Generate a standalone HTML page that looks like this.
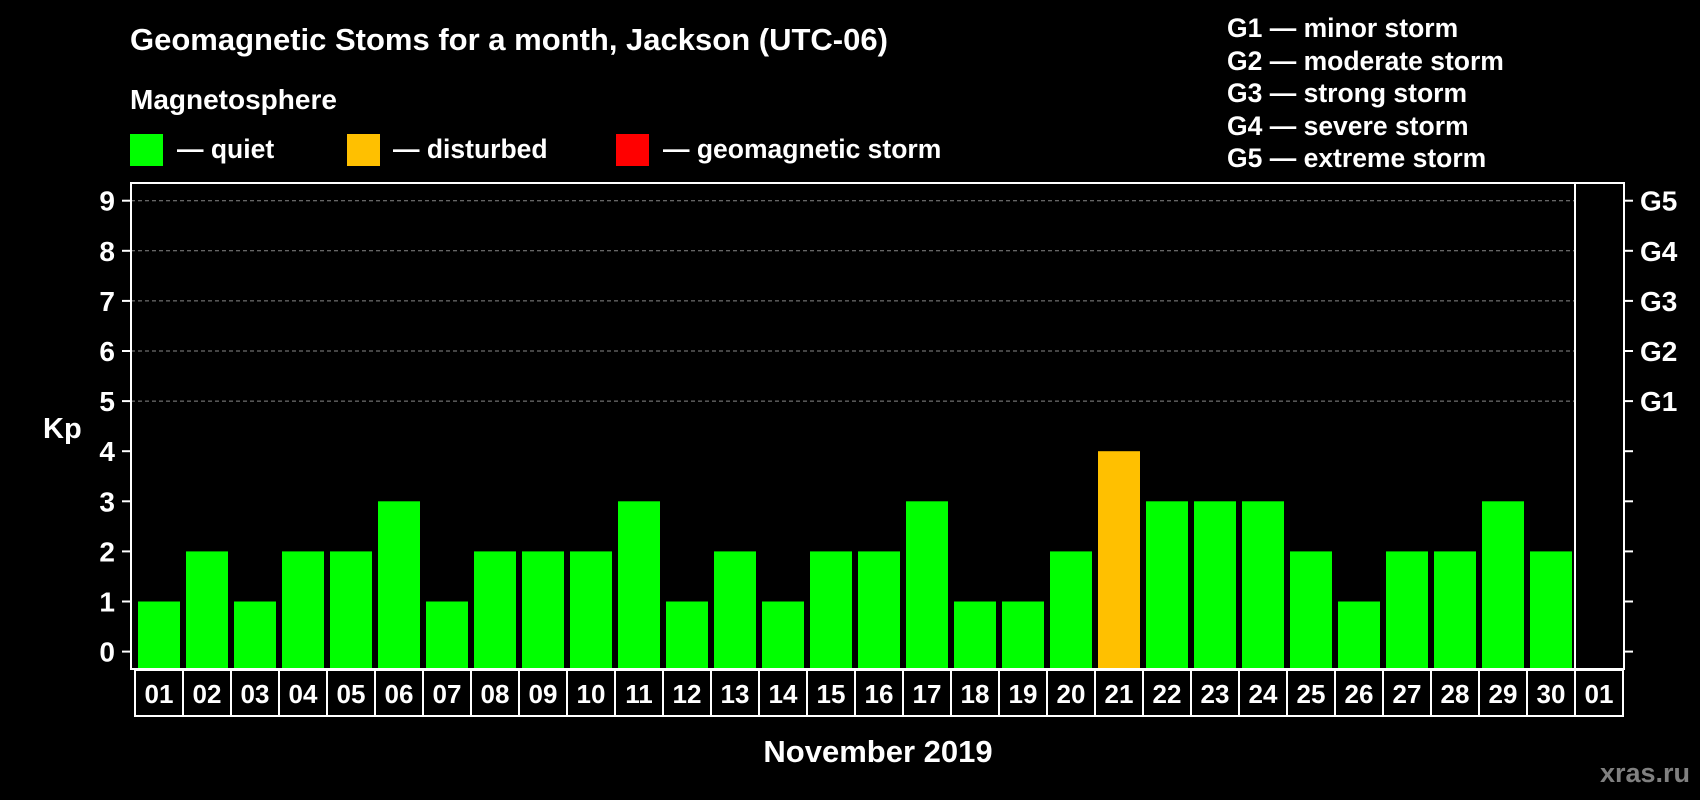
<!DOCTYPE html>
<html><head><meta charset="utf-8"><style>
html,body{margin:0;padding:0;background:#000;}
svg{display:block;font-family:"Liberation Sans",Arial,sans-serif;font-weight:bold;}
</style></head><body>
<svg id="c" width="1700" height="800" viewBox="0 0 1700 800">
<rect x="0" y="0" width="1700" height="800" fill="#000"/>
<text x="130" y="50" fill="#fff" font-size="31">Geomagnetic Stoms for a month, Jackson (UTC-06)</text>
<text x="130" y="109" fill="#fff" font-size="28">Magnetosphere</text>
<g><rect x="130" y="134" width="33" height="32" fill="#00ff00"/><text x="177" y="158" fill="#fff" font-size="26.5">— quiet</text></g>
<g><rect x="347" y="134" width="33" height="32" fill="#ffc000"/><text x="393" y="158" fill="#fff" font-size="26.5">— disturbed</text></g>
<g><rect x="616" y="134" width="33" height="32" fill="#ff0000"/><text x="663" y="158" fill="#fff" font-size="26.5">— geomagnetic storm</text></g>
<g fill="#fff" font-size="26.5">
<text x="1227" y="37">G1 — minor storm</text>
<text x="1227" y="70">G2 — moderate storm</text>
<text x="1227" y="102">G3 — strong storm</text>
<text x="1227" y="135">G4 — severe storm</text>
<text x="1227" y="167">G5 — extreme storm</text>
</g>
<text x="43" y="438" fill="#fff" font-size="29">Kp</text>
<text x="878" y="762" fill="#fff" font-size="31" text-anchor="middle">November 2019</text>
<text x="1690" y="782" fill="#808080" font-size="27" text-anchor="end">xras.ru</text>
<g id="plot"></g>
</svg>
<script>
const days = ["01","02","03","04","05","06","07","08","09","10","11","12","13","14","15","16","17","18","19","20","21","22","23","24","25","26","27","28","29","30","01"];
const kpValues = [1,2,1,2,2,3,1,2,2,2,3,1,2,1,2,2,3,1,1,2,4,3,3,3,2,1,2,2,3,2];
const yTicks = [0,1,2,3,4,5,6,7,8,9];
const gLabels = ["G1","G2","G3","G4","G5"];
const NS="http://www.w3.org/2000/svg";
const g=document.getElementById('plot');
const L=131,R=1624,T=183,B=669,X0=135,SW=48;
const y=v=>651.6-v*50.1;
const x=i=>X0+i*SW;
function mk(t,a){const e=document.createElementNS(NS,t);for(const k in a)e.setAttribute(k,a[k]);g.appendChild(e);return e;}
yTicks.forEach(v=>{
 if(v>=5){const l=mk('line',{x1:L,x2:1574,y1:y(v),y2:y(v),stroke:'#888','stroke-width':1,'stroke-dasharray':'4,3'});
 
 }
 const t1=mk('line',{x1:L-9,x2:L,y1:y(v),y2:y(v),stroke:'#fff','stroke-width':2});
 
 
 const t2=mk('line',{x1:R,x2:R+9,y1:y(v),y2:y(v),stroke:'#fff','stroke-width':2});
 
 
 const tx=mk('text',{x:115,y:y(v)+10,fill:'#fff','font-size':28,'text-anchor':'end'});
 tx.textContent=v;
 
 
});
gLabels.forEach((s,i)=>{
 const tx=mk('text',{x:1640,y:y(5+i)+10,fill:'#fff','font-size':28});
 tx.textContent=s;
 
 
});
kpValues.forEach((v,i)=>{
 const c=v>=5?'#ff0000':(v>=4?'#ffc000':'#00ff00');
 const b=mk('rect',{x:x(i)+3,y:y(v),width:42,height:B-1-y(v),fill:c});
 
 
});
const fr=mk('rect',{x:L,y:T,width:R-L,height:B-T,fill:'none',stroke:'#fff','stroke-width':2});


const sep=mk('line',{x1:x(30),x2:x(30),y1:T,y2:B,stroke:'#fff','stroke-width':2});


days.forEach((d,i)=>{
 const r=mk('rect',{x:x(i),y:670,width:SW,height:46,fill:'none',stroke:'#fff','stroke-width':2});
 
 
 const t=mk('text',{x:x(i)+SW/2,y:703,fill:'#fff','font-size':26,'text-anchor':'middle'});
 t.textContent=d;
 
 
});
</script>
</body></html>
